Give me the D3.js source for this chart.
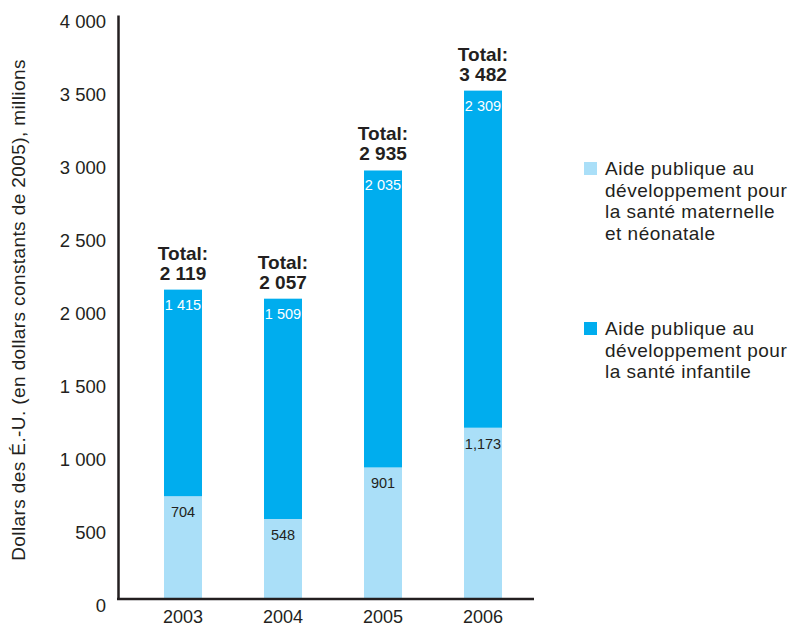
<!DOCTYPE html>
<html><head><meta charset="utf-8">
<script src="https://cdn.jsdelivr.net/npm/d3@7"></script>
<style>body{margin:0;background:#fff}svg{font-family:"Liberation Sans",Arial,sans-serif}</style>
</head><body><svg id="c" width="789" height="628"></svg>
<script>
const years = ["2003","2004","2005","2006"];
const maternal = [704, 548, 901, 1173];
const child = [1415, 1509, 2035, 2309];
const totals = [2119, 2057, 2935, 3482];
const maternalLabels = ["704","548","901","1,173"];
const childLabels = ["1 415","1 509","2 035","2 309"];
const totalLabels = ["2 119","2 057","2 935","3 482"];
const yTicks = [0,500,1000,1500,2000,2500,3000,3500,4000];
const yTickLabels = ["0","500","1 000","1 500","2 000","2 500","3 000","3 500","4 000"];
const legendItems = [
  ["Aide publique au","développement pour","la santé maternelle","et néonatale"],
  ["Aide publique au","développement pour","la santé infantile"]
];
const colLight = "#aadff8", colDark = "#00adee", ink = "#231f20";
const FF = "Liberation Sans, Arial, sans-serif";

const svg = d3.select("#c");
const y = d3.scaleLinear().domain([0,4000]).range([599,15]);
const x = d3.scaleBand().domain(years).range([114,552]).paddingInner(0.62).paddingOuter(0.5);

const g = svg.append("g");
years.forEach((yr,i)=>{
  const bx = x(yr), bw = x.bandwidth();
  g.append("rect").attr("x",bx).attr("width",bw).attr("y",y(maternal[i])).attr("height",y(0)-y(maternal[i])).attr("fill",colLight);
  g.append("rect").attr("x",bx).attr("width",bw).attr("y",y(totals[i])).attr("height",y(maternal[i])-y(totals[i])).attr("fill",colDark);
  const cx = bx+bw/2;
  g.append("text").attr("x",cx).attr("y",y(maternal[i])+21).attr("text-anchor","middle").attr("font-size",14.5).attr("fill",ink).text(maternalLabels[i]);
  g.append("text").attr("x",cx).attr("y",y(totals[i])+20).attr("text-anchor","middle").attr("font-size",14.5).attr("fill","#fff").text(childLabels[i]);
  g.append("text").attr("x",cx).attr("y",y(totals[i])-30).attr("text-anchor","middle").attr("font-size",19).attr("font-weight","bold").attr("fill",ink).text("Total:");
  g.append("text").attr("x",cx).attr("y",y(totals[i])-10).attr("text-anchor","middle").attr("font-size",19).attr("font-weight","bold").attr("fill",ink).text(totalLabels[i]);
});

const ya = svg.append("g").attr("transform","translate(118,0)")
  .call(d3.axisLeft(y).tickValues(yTicks).tickFormat((d,i)=>yTickLabels[i]).tickSize(0).tickPadding(12));
ya.select(".domain").attr("stroke",ink).attr("stroke-width",2.5);
ya.selectAll("text").attr("font-size",18.5).attr("fill",ink).attr("font-family",FF).attr("dy","0.7em");

const xa = svg.append("g").attr("transform","translate(0,599)")
  .call(d3.axisBottom(x).tickSize(0).tickPadding(11));
xa.select(".domain").attr("d","M117,0H534").attr("stroke",ink).attr("stroke-width",2.5);
xa.selectAll("text").attr("font-size",18).attr("fill",ink).attr("font-family",FF);

svg.append("text").attr("transform","translate(25,310) rotate(-90)").attr("text-anchor","middle")
  .attr("font-size",19).attr("letter-spacing",0.4).attr("fill",ink).text("Dollars des É.-U. (en dollars constants de 2005), millions");

const legY = [162, 322];
const legC = [colLight, colDark];
legendItems.forEach((lines,k)=>{
  svg.append("rect").attr("x",584).attr("y",legY[k]).attr("width",13).attr("height",13).attr("fill",legC[k]);
  lines.forEach((t,j)=>{
    svg.append("text").attr("x",605).attr("y",legY[k]+13+j*21.7).attr("font-size",19).attr("letter-spacing",0.5).attr("fill",ink).text(t);
  });
});
</script></body></html>
